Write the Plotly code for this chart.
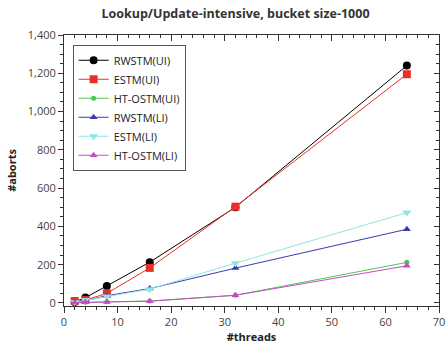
import plotly.graph_objects as go

threads = [2, 4, 8, 16, 32, 64]
rwstm_ui = [5, 28, 89, 213, 500, 1240]
estm_ui = [10, 15, 50, 183, 503, 1195]
htostm_ui = [1, 3, 6, 10, 40, 212]
rwstm_li = [3, 12, 38, 75, 182, 385]
estm_li = [4, 15, 33, 72, 208, 472]
htostm_li = [1, 3, 5, 9, 40, 194]

series = [
    ("RWSTM(UI)", rwstm_ui, "#000000", "circle", 8),
    ("ESTM(UI)", estm_ui, "#e8302a", "square", 8),
    ("HT-OSTM(UI)", htostm_ui, "#4cc94c", "circle", 5),
    ("RWSTM(LI)", rwstm_li, "#3a3ab4", "triangle-up", 7),
    ("ESTM(LI)", estm_li, "#8ee6e6", "triangle-down", 8),
    ("HT-OSTM(LI)", htostm_li, "#c44cc4", "triangle-up", 7),
]

fig = go.Figure()
for name, vals, col, sym, sz in series:
    fig.add_trace(go.Scatter(
        x=threads, y=vals, name=name, mode="lines+markers",
        line=dict(color=col, width=1),
        marker=dict(color=col, symbol=sym, size=sz),
    ))

# transparent trace on overlay axes so the mirrored (inside) ticks are drawn
fig.add_trace(go.Scatter(x=threads, y=rwstm_ui, xaxis="x2", yaxis="y2", mode="markers",
                         marker=dict(opacity=0), showlegend=False, hoverinfo="skip"))

XR = [0, 70]
YR = [-16, 1400]
tickfont = dict(family="Open Sans", size=11, color="#444444")

fig.update_layout(
    width=446, height=346,
    margin=dict(l=64, r=7, t=35, b=40, autoexpand=False),
    paper_bgcolor="white", plot_bgcolor="white",
    title=dict(text="<b>Lookup/Update-intensive, bucket size-1000</b>",
               x=0.528, xanchor="center", y=0.962, yanchor="middle", automargin=False,
               font=dict(family="Open Sans", size=12.5, color="#333333")),
    font=dict(family="Open Sans", size=11, color="#333333"),
    showlegend=True,
    legend=dict(x=0.023, y=0.964, xanchor="left", yanchor="top",
                bgcolor="white", bordercolor="#555555", borderwidth=1,
                font=dict(family="Open Sans", size=11, color="#222222"),
                itemwidth=30),
    xaxis=dict(range=XR, dtick=10, tick0=0, showgrid=False, zeroline=False, automargin=False,
               showline=True, linecolor="#333333", linewidth=1,
               ticks="outside", ticklen=6, tickcolor="#333333",
               minor=dict(dtick=2, ticklen=3, ticks="outside", tickcolor="#333333"),
               tickfont=tickfont,
               title=dict(text="<b>#threads</b>", standoff=4,
                          font=dict(family="Open Sans", size=11, color="#222222"))),
    yaxis=dict(range=YR, dtick=200, tick0=0, showgrid=False, zeroline=False, automargin=False,
               showline=True, linecolor="#333333", linewidth=1,
               ticks="outside", ticklen=5, tickcolor="#333333",
               minor=dict(dtick=50, ticklen=3, ticks="outside", tickcolor="#333333"),
               tickformat=",d", tickfont=tickfont,
               title=dict(text="<b>#aborts</b>", standoff=8,
                          font=dict(family="Open Sans", size=11, color="#222222"))),
    xaxis2=dict(range=XR, dtick=10, tick0=0, overlaying="x", side="top", showgrid=False,
                zeroline=False, showline=True, linecolor="#333333", linewidth=1, automargin=False,
                ticks="inside", ticklen=6, tickcolor="#333333",
                minor=dict(dtick=2, ticklen=3, ticks="inside", tickcolor="#333333"),
                showticklabels=False),
    yaxis2=dict(range=YR, dtick=200, tick0=0, overlaying="y", side="right", showgrid=False,
                zeroline=False, showline=True, linecolor="#333333", linewidth=1, automargin=False,
                ticks="inside", ticklen=5, tickcolor="#333333",
                minor=dict(dtick=50, ticklen=3, ticks="inside", tickcolor="#333333"),
                showticklabels=False),
)

fig.write_html("out.html", config={"displayModeBar": False},
               post_script="document.body.style.margin='0';")
